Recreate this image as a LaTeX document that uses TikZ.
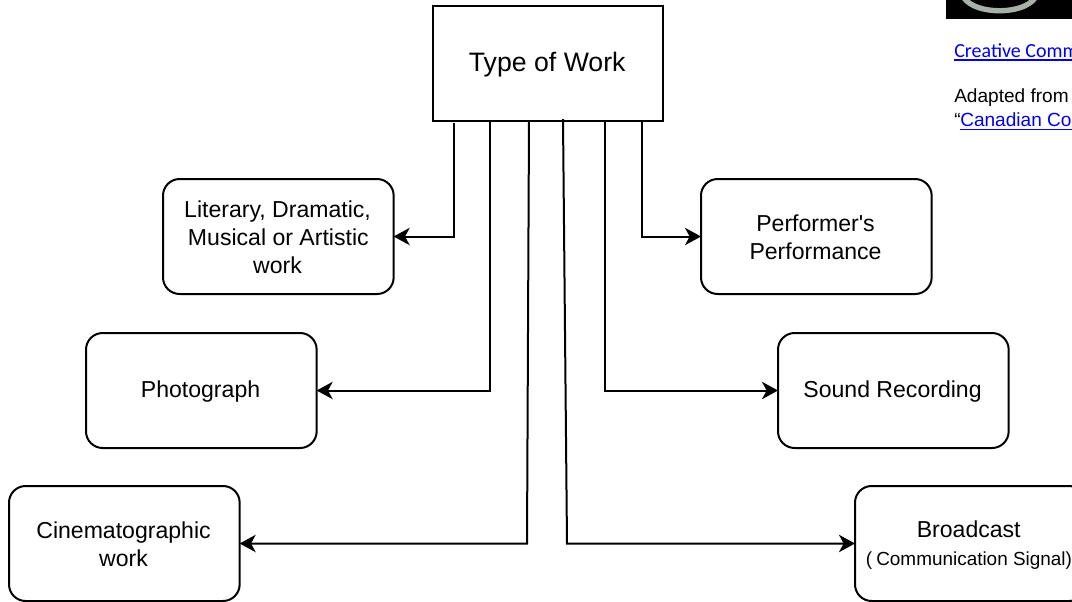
\documentclass[tikz,border=0pt]{standalone}
\usepackage{fontspec}
\setmainfont{Liberation Sans}
\newfontfamily\calibrifont{Carlito}
\newfontfamily\rawfont{Liberation Sans}
\usetikzlibrary{arrows.meta}
\definecolor{linkblue}{RGB}{0,0,238}
\newcommand\lsh{\hspace*{1.2pt}}
\newcommand\dn{\rule{0pt}{14.4pt}}
\newcommand\dnt{\rule{0pt}{16.2pt}}
\tikzset{
  x=0.75pt,y=-0.75pt,
  box/.style={draw=black,line width=1.5pt,outer sep=0pt,rounded corners=12.5pt,minimum width=173pt,minimum height=86.25pt,inner sep=0pt,align=center,font=\fontsize{17.3}{21}\selectfont,anchor=north west},
  topbox/.style={draw=black,line width=1.5pt,outer sep=0pt,minimum width=172.5pt,minimum height=86.25pt,inner sep=0pt,align=center,font=\fontsize{20}{24}\selectfont,anchor=north west},
  conn/.style={draw=black,line width=1.5pt,-{Stealth[length=12pt,width=13pt,inset=3.5pt]}},
  plain/.style={inner sep=0pt,anchor=base west},
  linkline/.style={draw=linkblue,line width=1.3pt}
}
\begin{document}
\begin{tikzpicture}
\useasboundingbox (0,0) rectangle (1072,601);
\clip (0,0) rectangle (1072,601);
% badge
\fill[black] (946,-5) rectangle (1072,19);
\draw[draw={rgb,255:red,168;green,176;blue,170},line width=4pt] (964,-2) .. controls (976,15) and (1023,15) .. (1035,-2);
% attribution
\node[plain,font=\calibrifont\fontsize{15}{16}\selectfont,text=linkblue] (cc) at (954,57) {Creative Comm};
\coordinate (ccend) at (1072,60);
\draw[linkline] (cc.base west |- ccend) -- (ccend);
\node[plain,font=\fontsize{14.3}{15}\selectfont] (ad) at (954,102.5) {Adapted from};
\node[plain,font=\fontsize{14.3}{15}\selectfont] (q) at (954,126) {“};
\node[plain,font=\fontsize{14.3}{15}\selectfont,text=linkblue] (can) at (960,126) {Canadian Co};
\coordinate (canend) at (1072,129.5);
\draw[linkline] (can.base west |- canend) -- (canend);
% boxes
\node[topbox] (work) at (433,6) {\dnt Type of Work\lsh};
\node[box] (lit) at (163,179) {\dn Literary, Dramatic,\lsh\\Musical or Artistic\lsh\\work\lsh};
\node[box] (perf) at (701,179) {\dn Performer{\rawfont'}s\lsh\\Performance\lsh};
\node[box] (photo) at (86,333) {\dn Photograph\lsh};
\node[box] (sound) at (778,333) {\dn Sound Recording\lsh};
\node[box] (cine) at (9,486) {\dn Cinematographic\lsh\\work\lsh};
\node[box] (broad) at (855,486) {\dn Broadcast\lsh\lsh\\{\fontsize{14.2}{17}\selectfont(\kern3pt Communication Signal)\hspace*{2pt}}};
% connectors
\coordinate (a1) at (454,123);
\coordinate (a2) at (490,121);
\coordinate (a3) at (529,121);
\coordinate (a4) at (563,119);
\coordinate (a5) at (605,121);
\coordinate (a6) at (642,121);
\coordinate (k3) at (527,543.5);
\coordinate (k4) at (567,543.5);
\draw[conn] (a1) |- (lit.east);
\draw[conn] (a2) |- (photo.east);
\draw[conn] (a3) -- (k3) -- (cine.east);
\draw[conn] (a4) -- (k4) -- (broad.west);
\draw[conn] (a5) |- (sound.west);
\draw[conn] (a6) |- (perf.west);
\end{tikzpicture}
\end{document}
